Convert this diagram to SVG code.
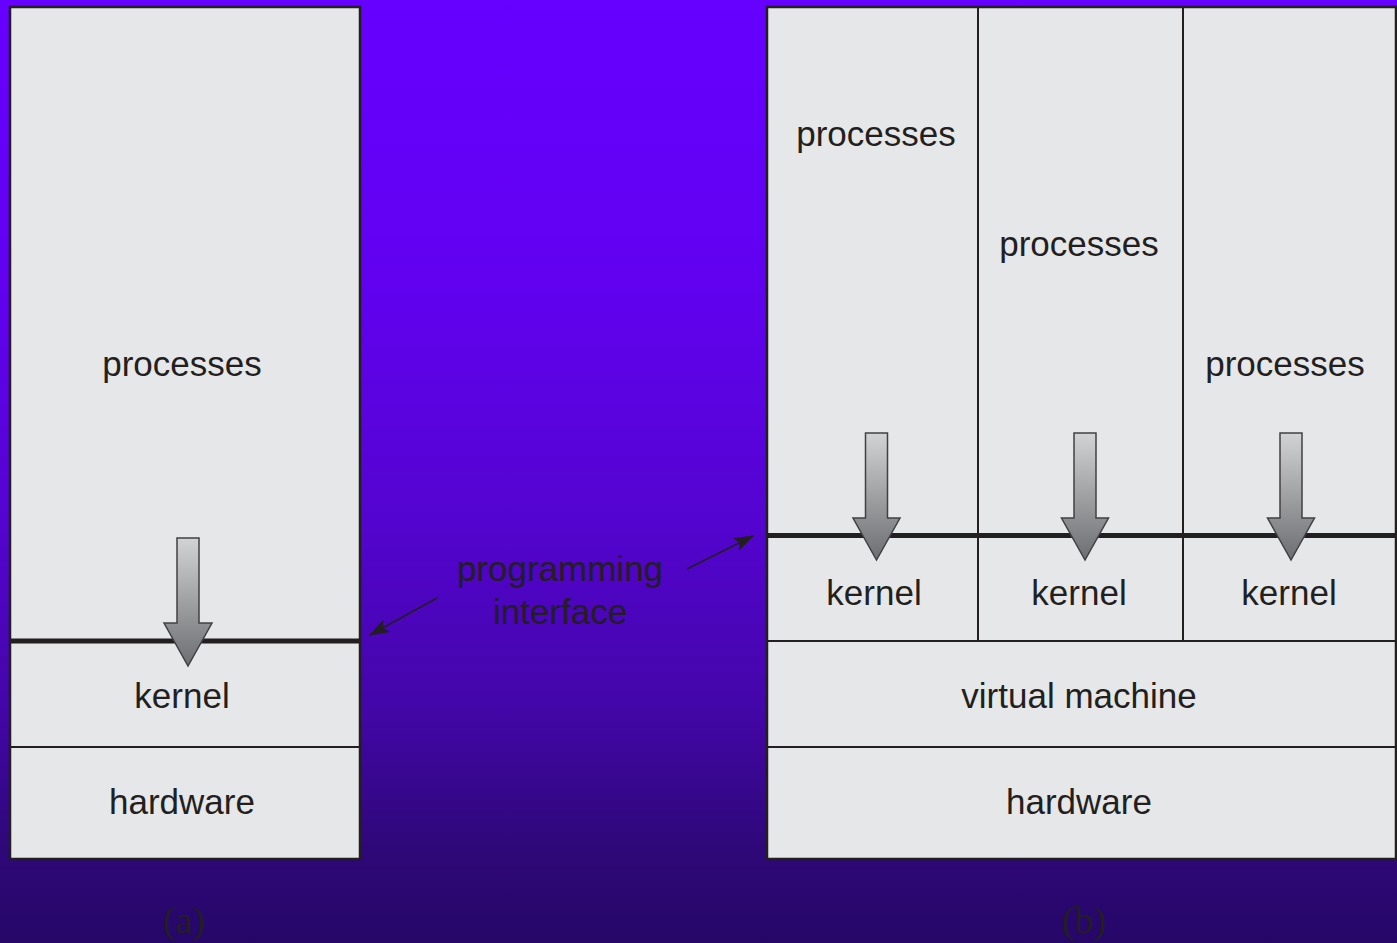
<svg xmlns="http://www.w3.org/2000/svg" width="1397" height="943" viewBox="0 0 1397 943">
<defs>
<linearGradient id="bg" x1="0" y1="0" x2="0" y2="1">
<stop offset="0" stop-color="#6600FF"/>
<stop offset="0.3" stop-color="#6101F0"/>
<stop offset="0.55" stop-color="#5404D0"/>
<stop offset="0.75" stop-color="#4306A8"/>
<stop offset="0.9" stop-color="#2E0878"/>
<stop offset="1" stop-color="#260768"/>
</linearGradient>
<linearGradient id="arr" x1="0" y1="0" x2="0" y2="1">
<stop offset="0" stop-color="#D1D3D4"/>
<stop offset="1" stop-color="#6D6E71"/>
</linearGradient>
<marker id="ahb" viewBox="0 0 20 14" refX="19" refY="7" markerWidth="20" markerHeight="14" markerUnits="userSpaceOnUse" orient="auto">
<path d="M0,0 L20,7 L0,14 L4,7 z" fill="#231F20"/>
</marker>
</defs>
<style>
.box{fill:#E6E7E8;stroke:#231F20;stroke-width:2.5}
.thin{stroke:#231F20;stroke-width:2;fill:none}
.thick{stroke:#231F20;stroke-width:5;fill:none}
.lbl{font-family:"Liberation Sans",Arial,sans-serif;font-size:35px;fill:#231F20;text-anchor:middle}
.cap{font-family:"Liberation Serif","Times New Roman",serif;font-size:38px;fill:#231F20;text-anchor:middle}
.arrow{fill:url(#arr);stroke:#414042;stroke-width:1.5}
.conn{stroke:#231F20;stroke-width:1.5;fill:none}
</style>
<rect width="1397" height="943" fill="url(#bg)"/>

<g id="diagram-a">
<rect class="box" x="10" y="7" width="350" height="852"/>
<line class="thin" x1="10" y1="747" x2="360" y2="747"/>
<line class="thick" x1="11" y1="641" x2="359" y2="641"/>
<g id="a-processes"><text class="lbl" x="182" y="376">processes</text></g>
<g id="a-kernel"><text class="lbl" x="182" y="708">kernel</text></g>
<g id="a-hardware"><text class="lbl" x="182" y="814">hardware</text></g>
<path id="a-arrow" class="arrow" d="M177,538 H199 V623 H212 L188,666 L164,623 H177 Z"/>
<text class="cap" x="184" y="933">(a)</text>
</g>

<g id="diagram-b">
<rect class="box" x="767" y="7" width="629" height="852"/>
<line class="thin" x1="978" y1="7" x2="978" y2="641"/>
<line class="thin" x1="1183" y1="7" x2="1183" y2="641"/>
<line class="thin" x1="767" y1="641" x2="1396" y2="641"/>
<line class="thin" x1="767" y1="747" x2="1396" y2="747"/>
<line class="thick" x1="768" y1="535.5" x2="1396" y2="535.5"/>
<g id="b-processes-1"><text class="lbl" x="876" y="146">processes</text></g>
<g id="b-processes-2"><text class="lbl" x="1079" y="256">processes</text></g>
<g id="b-processes-3"><text class="lbl" x="1285" y="376">processes</text></g>
<g id="b-kernel-1"><text class="lbl" x="874" y="605">kernel</text></g>
<g id="b-kernel-2"><text class="lbl" x="1079" y="605">kernel</text></g>
<g id="b-kernel-3"><text class="lbl" x="1289" y="605">kernel</text></g>
<g id="b-vm"><text class="lbl" x="1079" y="708">virtual machine</text></g>
<g id="b-hardware"><text class="lbl" x="1079" y="814">hardware</text></g>
<path class="arrow" d="M865.5,433 H887.5 V518 H900 L876.5,560 L853,518 H865.5 Z"/>
<path class="arrow" d="M1074,433 H1096 V518 H1108.5 L1085,560 L1061.5,518 H1074 Z"/>
<path class="arrow" d="M1280,433 H1302 V518 H1314.5 L1291,560 L1267.5,518 H1280 Z"/>
<text class="cap" x="1084" y="933">(b)</text>
</g>

<g id="programming-interface">
<text class="lbl" x="560" y="581">programming</text>
<text class="lbl" x="560" y="624">interface</text>
</g>
<g id="connectors">
<line class="conn" x1="437" y1="598" x2="370" y2="635" marker-end="url(#ahb)"/>
<line class="conn" x1="687" y1="569" x2="753" y2="536" marker-end="url(#ahb)"/>
</g>
</svg>
